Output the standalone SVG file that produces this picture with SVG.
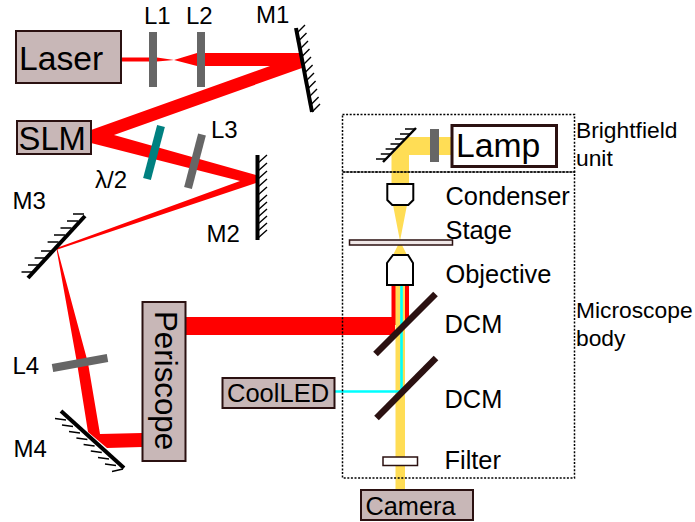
<svg xmlns="http://www.w3.org/2000/svg" width="695" height="522" viewBox="0 0 695 522">
<style>
text{font-family:"Liberation Sans",Arial,sans-serif;fill:#000}
.l24{font-size:24px}.l25{font-size:25.400px}.l22{font-size:22.800px}.l33{font-size:33.700px}
.box{fill:#c8b7b7;stroke:#2b1111;stroke-width:2}
.lens{stroke:#666;stroke-width:8;fill:none}
.mir{stroke:#000;stroke-width:4;fill:none}
.hatch{stroke:#000;stroke-width:1.4;fill:none}
.dcm{stroke:#2b1111;stroke-width:6.5;fill:none}
.obj{fill:#fff;stroke:#000;stroke-width:2}
.red{fill:#f00}.yel{fill:#ffdd55}
.dot{fill:none;stroke:#000;stroke-width:1.5;stroke-dasharray:2 1.6}
</style>
<g id="connectors">
<polygon class="yel" points="452,137 408,137 391.5,155 391.5,184 409,184 409,155 452,155"/>
<polygon class="yel" points="393,205 407,205 400,241 407,255 393,255 400,241"/>
<rect class="red" x="391.5" y="285" width="17.5" height="40"/>
<rect class="red" x="185" y="317" width="210" height="18"/>
<rect class="yel" x="395.5" y="285" width="9.5" height="205"/>
<path d="M401.5 285V391.5H333" fill="none" stroke="#0ff" stroke-width="2.6"/>
<polygon class="red" points="121,57.500 157,57.500 174,60 197,53 300,53 302,68 114,135 256,175 256,183 57.500,249.500 88,363 100,434 142,433 142,447 107,448 88,432 77,363 56.500,249 56.500,248 240,181 91,143 91,130 270,66 197,66 174,60 157,61.500 121,61.500"/>
</g>
<g id="brightfield-unit"><rect class="dot" x="342.500" y="114.500" width="232" height="57.500"/>
<text class="l22" x="576" y="138">Brightfield</text><text class="l22" x="576" y="166">unit</text></g>
<g id="microscope-body"><rect class="dot" x="342.500" y="172" width="232" height="306"/>
<text class="l22" x="576" y="318">Microscope</text><text class="l22" x="576" y="346">body</text></g>
<g id="laser"><rect class="box" x="16" y="31" width="105" height="52"/><text class="l33" x="19" y="70">Laser</text></g>
<g id="L1"><line class="lens" x1="153" y1="32" x2="153" y2="87"/><text class="l24" x="144" y="24">L1</text></g>
<g id="L2"><line class="lens" x1="201" y1="32" x2="201" y2="87"/><text class="l24" x="186" y="24">L2</text></g>
<g id="M1"><line class="mir" x1="296" y1="28" x2="312" y2="112"/>
<path class="hatch" d="M297 33l8-8M298.500 41l8-8M300 49l8-8M301.500 57l8-8M303 65l8-8M304.600 73l8-8M306 81l8-8M307.600 89l8-8M309 97l8-8M310.600 105l8-8M312 112l8-8"/>
<text class="l24" x="256" y="23">M1</text></g>
<g id="SLM"><rect class="box" x="17" y="121" width="74" height="33"/><text class="l33" x="18.500" y="150" style="font-size:32.800px">SLM</text></g>
<g id="halfwave"><line x1="161" y1="126" x2="147" y2="179" stroke="#008080" stroke-width="8"/><text class="l24" x="95" y="188">λ/2</text></g>
<g id="L3"><line class="lens" x1="202" y1="134.500" x2="188" y2="188"/><text class="l24" x="211" y="138">L3</text></g>
<g id="M2"><line class="mir" x1="257.500" y1="155" x2="257.500" y2="240"/>
<path class="hatch" d="M258 163l9-8M258 171l9-8M258 179l9-8M258 187l9-8M258 195l9-8M258 203l9-8M258 210l9-8M258 217l9-8M258 224l9-8M258 231l9-8M258 238l9-8"/>
<text class="l24" x="206.500" y="242">M2</text></g>
<g id="M3"><line class="mir" x1="85" y1="216" x2="28" y2="278"/>
<path class="hatch" d="M84 214h-11M78 221h-11M71.500 228h-11M65 235h-11M58.600 242h-11M52 251h-11M45.600 258h-11M39 265h-11M32.500 272h-11"/>
<text class="l24" x="12.500" y="209">M3</text></g>
<g id="L4"><line class="lens" x1="52.500" y1="368" x2="107.500" y2="358"/><text class="l24" x="12.500" y="374">L4</text></g>
<g id="M4"><line class="mir" x1="61" y1="411" x2="124" y2="468"/>
<path class="hatch" d="M66 420l-11-1.500M73 426.500l-11-1.500M80 433l-11-1.500M87.400 439.500l-11-1.500M94.600 446l-11-1.500M101.800 452.500l-11-1.500M109 459l-11-1.500M116 465.500l-11-1.500M123 469l-11 2.500"/>
<text class="l24" x="13.500" y="457">M4</text></g>
<g id="periscope"><rect class="box" x="142.500" y="302" width="43" height="159"/><text transform="translate(155,311) rotate(90)" style="font-size:31.300px">Periscope</text></g>
<g id="lamp"><rect x="452" y="125.500" width="104.500" height="41" fill="#fff" stroke="#2b1111" stroke-width="3"/><text class="l33" x="456" y="157">Lamp</text></g>
<g id="lamp-lens"><line x1="434.500" y1="129" x2="434.500" y2="162" stroke="#666" stroke-width="9"/></g>
<g id="lamp-mirror"><line x1="383" y1="162" x2="416" y2="128" stroke="#000" stroke-width="2.500"/>
<path class="hatch" d="M415 129h-10M410 134h-10M405 139h-10M400.500 144h-10M395.600 149h-10M390.800 154h-10M386 159h-10"/></g>
<g id="condenser"><polygon class="obj" points="387.300,184 413.300,184 413.300,200 408.300,205 392.300,205 387.300,200"/><text class="l25" x="445.500" y="205">Condenser</text></g>
<g id="stage"><rect x="349.500" y="240" width="103" height="5" fill="#f0e8e8" stroke="#2b1111" stroke-width="1.500"/><text class="l25" x="445.500" y="239">Stage</text></g>
<g id="objective"><polygon class="obj" points="393,255 408,255 413,263 413,285 387,285 387,263"/><text class="l25" x="445.500" y="283">Objective</text></g>
<g id="dcm1"><line class="dcm" x1="375.500" y1="354" x2="435.500" y2="294"/><text class="l25" x="444.500" y="333">DCM</text></g>
<g id="dcm2"><line class="dcm" x1="376.500" y1="418" x2="436" y2="358"/><text class="l25" x="444.500" y="408">DCM</text></g>
<g id="filter"><rect x="383" y="457" width="34.500" height="8.500" fill="#fff" stroke="#2b1111" stroke-width="1.500"/><text class="l25" x="444.500" y="469">Filter</text></g>
<g id="coolled"><rect class="box" x="222.500" y="378" width="112" height="30"/><text class="l25" x="227" y="402" style="font-size:25.500px">CoolLED</text></g>
<g id="camera"><rect class="box" x="361" y="490" width="112" height="30"/><text class="l25" x="365.500" y="515" style="font-size:25.300px">Camera</text></g>
</svg>
